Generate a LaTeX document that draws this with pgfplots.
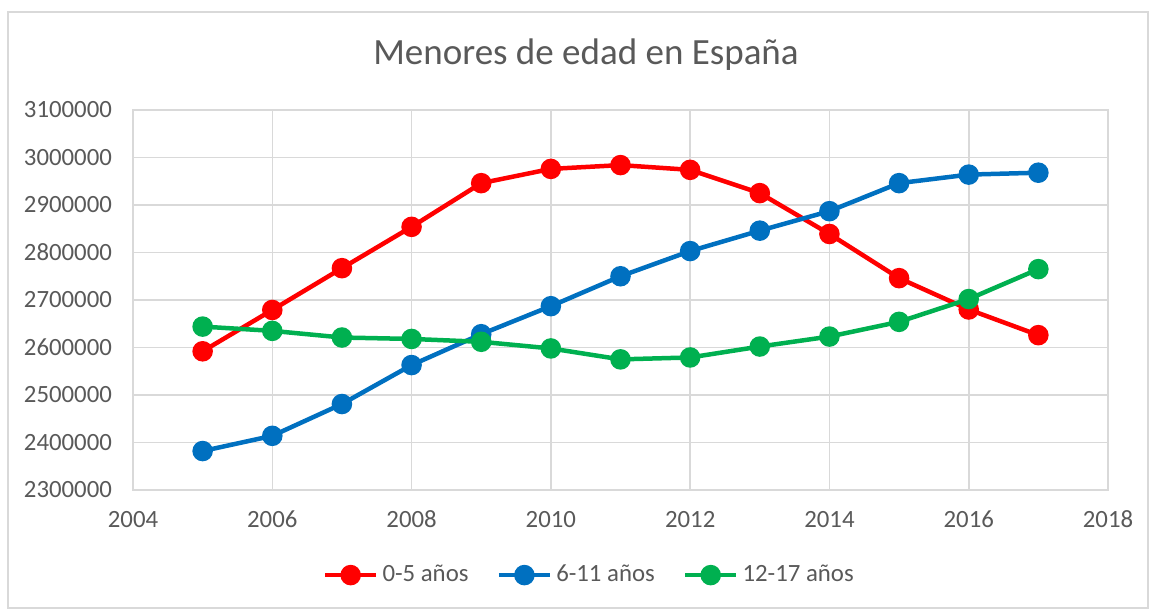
\documentclass[border=0pt]{standalone}
\usepackage{pgfplots}
\pgfplotsset{compat=1.18}
\usepackage{fontspec}
\setmainfont{Carlito}
\definecolor{txt}{HTML}{595959}
\definecolor{gridc}{HTML}{D9D9D9}
\definecolor{cred}{HTML}{FF0000}
\definecolor{cblue}{HTML}{0070C0}
\definecolor{cgreen}{HTML}{00B050}
\begin{document}
\begin{tikzpicture}[x=1pt,y=1pt]
\useasboundingbox (0,0) rectangle (578,306.5);
\draw[gridc,line width=0.6pt] (4,2.5) rectangle (574,300.5);
\node[txt,font=\fontsize{18.5}{22}\selectfont] at (293,279) {Menores de edad en España};
\begin{axis}[
  at={(66.5pt,61.5pt)}, anchor=south west,
  scale only axis, width=487.5pt, height=190pt,
  xmin=2004, xmax=2018, ymin=2300000, ymax=3100000,
  xtick={2004,2006,...,2018},
  ytick={2300000,2400000,...,3100000},
  scaled y ticks=false,
  /pgf/number format/.cd, 1000 sep={}, fixed, assume math mode=true,
  /pgfplots/.cd,
  grid=major,
  major grid style={gridc, line width=0.75pt},
  axis line style={gridc, line width=0.75pt},
  tick style={draw=none},
  ticklabel style={txt, font=\fontsize{12.4}{14}\selectfont},
  xticklabel style={yshift=-7pt},
  yticklabel style={xshift=-7pt},
  legend style={at={(0.469,-0.224)}, anchor=center, draw=none, fill=none,
    font=\fontsize{12.4}{14}\selectfont, text=txt,
    legend columns=3, /tikz/every even column/.append style={column sep=12pt}},
  legend image code/.code={\draw[mark repeat=2,mark phase=2] plot coordinates {(0cm,0cm)(0.45cm,0cm)(0.9cm,0cm)};},
  every axis plot/.append style={line width=2.25pt, mark=*, mark size=4pt, mark options={solid}},
]
\addplot[cred, mark options={fill=cred}] coordinates {
(2005,2592000)(2006,2679000)(2007,2767000)(2008,2854000)(2009,2946000)(2010,2976000)(2011,2984000)(2012,2974000)(2013,2925000)(2014,2839000)(2015,2746000)(2016,2680000)(2017,2626000)};
\addlegendentry{0-5 años}
\addplot[cblue, mark options={fill=cblue}] coordinates {
(2005,2382000)(2006,2414000)(2007,2481000)(2008,2563000)(2009,2628000)(2010,2687000)(2011,2750000)(2012,2803000)(2013,2846000)(2014,2887000)(2015,2946000)(2016,2964000)(2017,2968000)};
\addlegendentry{6-11 años}
\addplot[cgreen, mark options={fill=cgreen}] coordinates {
(2005,2644000)(2006,2635000)(2007,2621000)(2008,2618000)(2009,2612000)(2010,2598000)(2011,2575000)(2012,2579000)(2013,2602000)(2014,2623000)(2015,2654000)(2016,2702000)(2017,2765000)};
\addlegendentry{12-17 años}
\end{axis}
\end{tikzpicture}
\end{document}
